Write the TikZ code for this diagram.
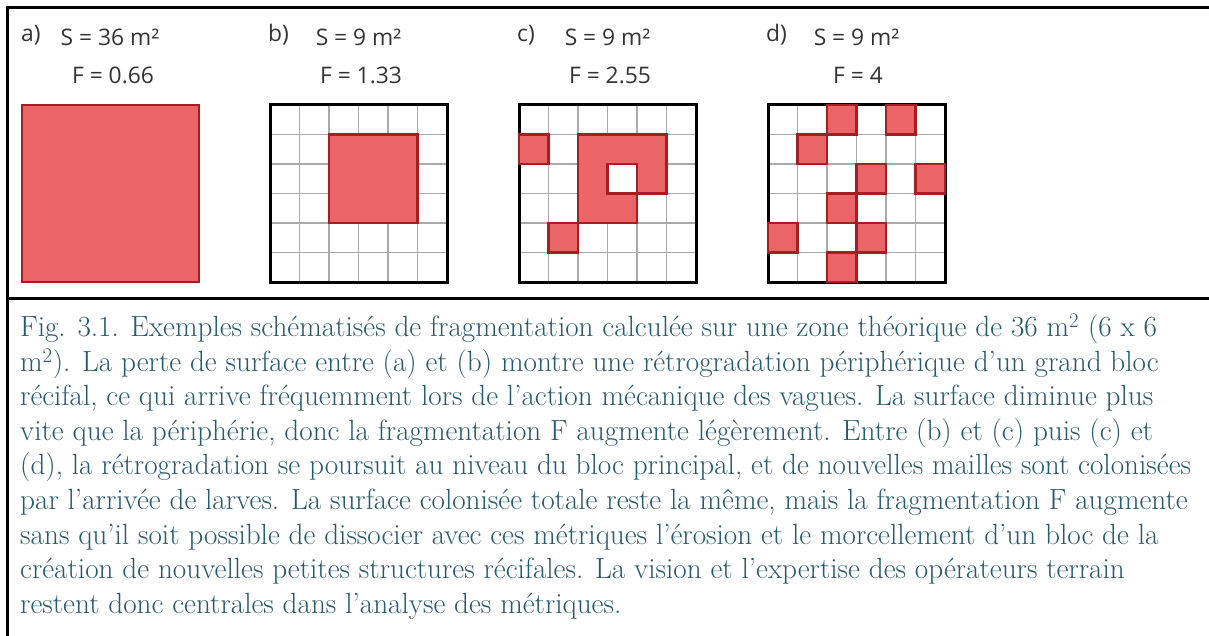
\documentclass[tikz,border=0pt]{standalone}
\usepackage{fontspec}
\newfontfamily\osans{Open Sans}
\definecolor{capcol}{RGB}{40,90,110}
\definecolor{redfill}{HTML}{EB6467}
\definecolor{redstroke}{HTML}{A51E22}
\definecolor{labcol}{HTML}{333333}
\definecolor{gridgray}{HTML}{AAAAAA}
\begin{document}
\begin{tikzpicture}[x=1pt,y=-1pt,
  lab/.style={font=\osans\fontsize{22.8}{26}\selectfont, text=labcol, inner sep=0pt, anchor=base},
  letlab/.style={lab, anchor=base west},
  captext/.style={font=\fontsize{29.2}{35}\selectfont, text=capcol, inner sep=0pt, anchor=base west},
  gridln/.style={draw=gridgray, line width=1.5pt},
  frameln/.style={draw=black, line width=3pt},
  redcell/.style={fill=redfill, draw=redstroke, line width=2.5pt},
  redoutline/.style={draw=redstroke, line width=2.5pt, line join=miter}
]
\useasboundingbox (0,0) rectangle (1209,636);
\def\cs{29.5}
% frame
\draw[frameln] (7.5,636) -- (7.5,8) -- (1209,8);
\draw[frameln] (7.5,298) -- (1209,298);

% labels
\node[letlab] (la) at (21,42) {a)};
\node[letlab] (lb) at (268,42) {b)};
\node[letlab] (lc) at (517,42) {c)};
\node[letlab] (ld) at (766,42) {d)};
\node[lab] (sa) at (110,45.5) {S = 36 m²};
\node[lab] (sb) at (358.5,45.5) {S = 9 m²};
\node[lab] (sc) at (607.5,45.5) {S = 9 m²};
\node[lab] (sd) at (856.5,45.5) {S = 9 m²};
\node[lab] (fa) at (113,84) {F = 0.66};
\node[lab] (fb) at (361,84) {F = 1.33};
\node[lab] (fc) at (610,84) {F = 2.55};
\node[lab] (fd) at (858,84) {F = 4};

% panel a
\draw[redcell] (22,105) rectangle (199,282);

% grids b, c, d
\foreach \X in {270,519,768} {
  \foreach \k in {1,...,5} {
    \draw[gridln] ({\X+\k*\cs},105) -- ({\X+\k*\cs},282);
    \draw[gridln] (\X,{105+\k*\cs}) -- ({\X+177},{105+\k*\cs});
  }
  \draw[frameln] (\X,105) rectangle ({\X+177},282);
}

% panel b
\draw[redcell] ({270+2*\cs},{105+1*\cs}) rectangle ({270+5*\cs},{105+4*\cs});

% panel c
\def\X{519}
\foreach \i/\j in {2/1,3/1,4/1,2/2,4/2,2/3,3/3} {
  \fill[redfill] ({\X+\i*\cs},{105+\j*\cs}) rectangle ({\X+(\i+1)*\cs},{105+(\j+1)*\cs});
}
\draw[redoutline] ({\X+2*\cs},{105+1*\cs}) -- ({\X+5*\cs},{105+1*\cs}) -- ({\X+5*\cs},{105+3*\cs})
  -- ({\X+4*\cs},{105+3*\cs}) -- ({\X+4*\cs},{105+4*\cs}) -- ({\X+2*\cs},{105+4*\cs}) -- cycle;
\draw[redoutline] ({\X+3*\cs},{105+2*\cs}) rectangle ({\X+4*\cs},{105+3*\cs});
\foreach \i/\j in {0/1,1/4} {
  \draw[redcell] ({\X+\i*\cs},{105+\j*\cs}) rectangle ({\X+(\i+1)*\cs},{105+(\j+1)*\cs});
}

% panel d
\foreach \i/\j in {2/0,4/0,1/1,3/2,5/2,2/3,0/4,3/4,2/5} {
  \draw[redcell] ({768+\i*\cs},{105+\j*\cs}) rectangle ({768+(\i+1)*\cs},{105+(\j+1)*\cs});
}

% caption
\node[captext] (c1) at (20,336.5) {Fig. 3.1. Exemples schématisés de fragmentation calculée sur une zone théorique de 36 m$^2$ (6 x 6};
\node[captext] (c2) at (20,371.1) {m$^2$). La perte de surface entre (a) et (b) montre une rétrogradation périphérique d’un grand bloc};
\node[captext] (c3) at (20,405.7) {récifal, ce qui arrive fréquemment lors de l’action mécanique des vagues. La surface diminue plus};
\node[captext] (c4) at (20,440.3) {vite que la périphérie, donc la fragmentation F augmente légèrement. Entre (b) et (c) puis (c) et};
\node[captext] (c5) at (20,474.9) {(d), la rétrogradation se poursuit au niveau du bloc principal, et de nouvelles mailles sont colonisées};
\node[captext] (c6) at (20,509.5) {par l’arrivée de larves. La surface colonisée totale reste la même, mais la fragmentation F augmente};
\node[captext] (c7) at (20,544.1) {sans qu’il soit possible de dissocier avec ces métriques l’érosion et le morcellement d’un bloc de la};
\node[captext] (c8) at (20,578.7) {création de nouvelles petites structures récifales. La vision et l’expertise des opérateurs terrain};
\node[captext] (c9) at (20,613.3) {restent donc centrales dans l’analyse des métriques.};
\end{tikzpicture}
\end{document}
